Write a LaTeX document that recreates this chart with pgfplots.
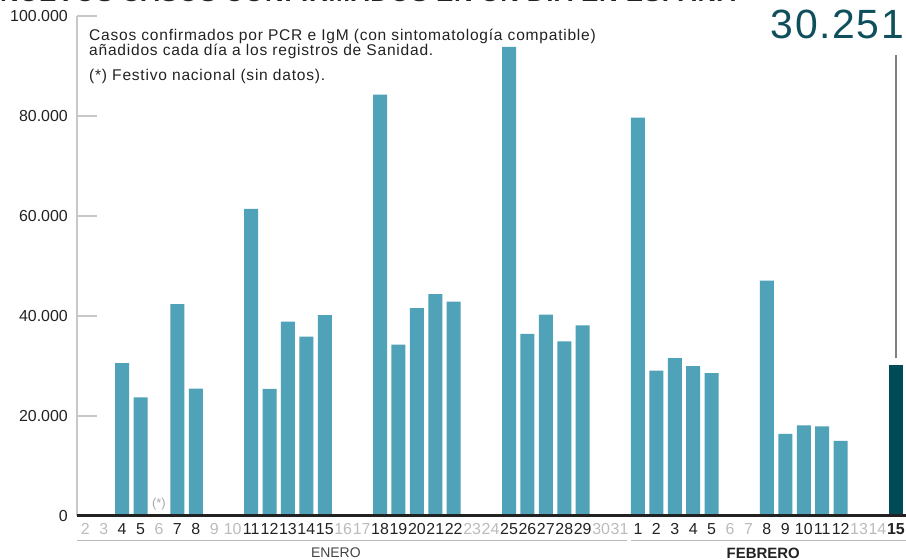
\documentclass[border=0pt]{standalone}
\usepackage{pgfplots}
\pgfplotsset{compat=1.18}
\usepackage{fontspec}
\setmainfont{Liberation Sans}

\definecolor{barcol}{HTML}{4FA2B7}
\definecolor{darkbar}{HTML}{004B57}
\definecolor{numcol}{HTML}{0E4F5B}
\definecolor{axgray}{HTML}{C8C8C8}
\definecolor{lbl}{HTML}{222222}
\definecolor{lgt}{HTML}{BBBBBB}
\newcommand{\dk}[1]{\textcolor{lbl}{#1}}
\newcommand{\lt}[1]{\textcolor{lgt}{#1}}
\newcommand{\notefont}{\fontsize{15.6}{15.6}\selectfont\addfontfeatures{LetterSpace=5}}

\begin{document}
\begin{tikzpicture}[x=1bp,y=1bp]
\useasboundingbox (0,0) rectangle (906,560);

% title, mostly cut off at the top edge
\node[anchor=base west, inner sep=0, text=lbl,
      font=\bfseries\fontsize{26}{26}\selectfont\addfontfeatures{LetterSpace=3}] at (0,558.5)
  {NUEVOS CASOS CONFIRMADOS EN UN DÍA EN ESPAÑA};
\node[anchor=base east, inner sep=0, text=numcol,
      font=\fontsize{41}{41}\selectfont\addfontfeatures{LetterSpace=4}] at (904,521) {30.251};

\begin{axis}[
  at={(77bp,44bp)}, anchor=south west,
  scale only axis, width=829bp, height=500bp,
  xmin=-0.45, xmax=44.55, ymin=0, ymax=100000,
  clip=false,
  axis lines*=left,
  x axis line style={draw=none},
  y axis line style={draw=axgray, line width=2bp},
  tick align=inside, major tick length=20bp,
  ytick={0,20000,40000,60000,80000,100000},
  yticklabels={0,20.000,40.000,60.000,80.000,100.000},
  ytick style={draw=axgray, line width=1.5bp},
  yticklabel style={font=\fontsize{16}{16}\selectfont, text=lbl,
                    anchor=east, inner sep=0pt, xshift=-9bp},
  xtick={0,...,44},
  xticklabels={\lt{2},\lt{3},\dk{4},\dk{5},\lt{6},\dk{7},\dk{8},\lt{9},\lt{10},
    \dk{11},\dk{12},\dk{13},\dk{14},\dk{15},\lt{16},\lt{17},\dk{18},\dk{19},\dk{20},
    \dk{21},\dk{22},\lt{23},\lt{24},\dk{25},\dk{26},\dk{27},\dk{28},\dk{29},\lt{30},
    \lt{31},\dk{1},\dk{2},\dk{3},\dk{4},\dk{5},\lt{6},\lt{7},\dk{8},\dk{9},\dk{10},
    \dk{11},\dk{12},\lt{13},\lt{14},\textbf{\dk{15}}},
  xtick style={draw=none},
  xticklabel style={font=\fontsize{16}{16}\selectfont, anchor=base,
                    inner sep=0pt, yshift=-19bp},
  extra x ticks={0.5,1.5,...,43.5},
  extra x tick labels={},
  extra x tick style={major tick length=10bp,
                      tick style={draw=axgray, line width=1bp}},
]
\addplot[ybar, bar width=14bp, bar shift=0pt, fill=barcol, draw=none]
  coordinates{
    (2,30579) (3,23700) (5,42360) (6,25456)
    (9,61422) (10,25438) (11,38869) (12,35878) (13,40197)
    (16,84287) (17,34291) (18,41576) (19,44357) (20,42885)
    (23,93822) (24,36435) (25,40285) (26,34899) (27,38118)
    (30,79686) (31,29064) (32,31596) (33,29960) (34,28565)
    (37,47095) (38,16402) (39,18111) (40,17924) (41,15014)
};
\addplot[ybar, bar width=14bp, bar shift=0pt, fill=darkbar, draw=none]
  coordinates{(44,30251)};

\draw[lbl, line width=3bp] (axis cs:-0.45,0) -- (axis cs:44.55,0);
\draw[gray, line width=1.5bp] (axis cs:44,31500) -- (axis cs:44,92200);
\node[text=lgt!90!black, font=\fontsize{13}{13}\selectfont] at (axis cs:4,2300) {(*)};

% months
\draw[lgt, line width=1bp] (axis cs:-0.45,-5000) -- (axis cs:29.4,-5000);
\draw[lgt, line width=1bp] (axis cs:29.6,-5000) -- (axis cs:44.55,-5000);
\node[text=lbl!85, font=\fontsize{14}{14}\selectfont] at (axis cs:13.6,-7400) {ENERO};
\node[text=lbl, font=\bfseries\fontsize{15}{15}\selectfont] at (axis cs:36.8,-7400) {FEBRERO};
\end{axis}

\node[anchor=base west, inner sep=0, text=lbl, font=\notefont] at (89,519.7)
  {Casos confirmados por PCR e IgM (con sintomatología compatible)};
\node[anchor=base west, inner sep=0, text=lbl, font=\notefont] at (89,504.7)
  {añadidos cada día a los registros de Sanidad.};
\node[anchor=base west, inner sep=0, text=lbl, font=\notefont] at (89,479)
  {(*) Festivo nacional (sin datos).};
\end{tikzpicture}
\end{document}
